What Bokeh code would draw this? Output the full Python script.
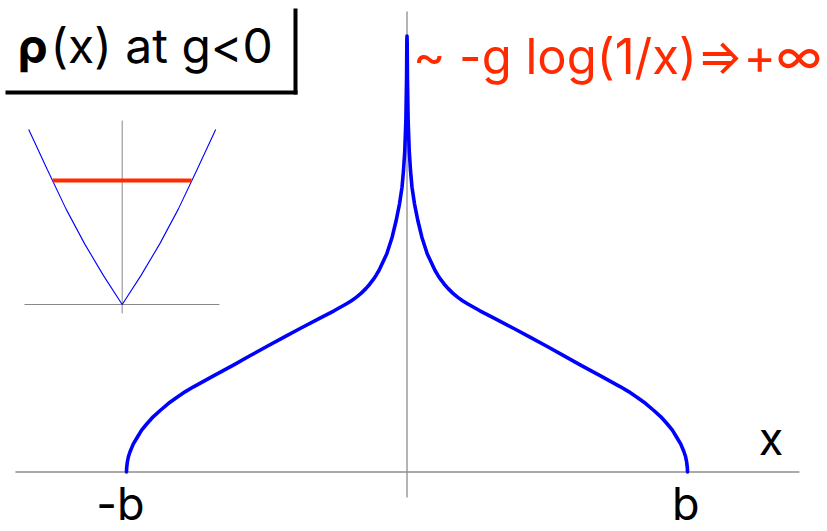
from bokeh.plotting import figure
from bokeh.models import Range1d, Label
from bokeh.embed import file_html
from bokeh.resources import INLINE

# Edge of the support [-b, b]
B = 1.0

# Right half of the eigenvalue density rho(x), 0 <= x <= b; rho is even in x
x_half = [0.0, 0.0006, 0.0015, 0.004, 0.008, 0.0125, 0.0178, 0.0267, 0.0386,
          0.053, 0.072, 0.10, 0.11, 0.12, 0.133, 0.146, 0.163, 0.18, 0.198,
          0.217, 0.26, 0.312, 0.381, 0.44, 0.5, 0.56, 0.619, 0.69, 0.761,
          0.79, 0.821, 0.85, 0.88, 0.905, 0.928, 0.946, 0.963, 0.976, 0.987,
          0.993, 0.997, 0.9995, 1.0]
rho_half = [4.36, 4.3, 3.95, 3.52, 3.21, 3.015, 2.848, 2.682, 2.515,
            2.348, 2.182, 2.015, 1.968, 1.926, 1.878, 1.836, 1.789, 1.749, 1.713,
            1.68, 1.612, 1.536, 1.435, 1.347, 1.255, 1.162, 1.069, 0.962, 0.852,
            0.804, 0.745, 0.687, 0.615, 0.552, 0.48, 0.419, 0.34, 0.279, 0.205,
            0.155, 0.1, 0.04, 0.0]

# Inset: potential V(x) and the filled level
v_x = [-1.0, -0.8, -0.6, -0.4, -0.2, 0.0, 0.2, 0.4, 0.6, 0.8, 1.0]
v_y = [1.0, 0.77, 0.545, 0.345, 0.165, 0.0, 0.165, 0.345, 0.545, 0.77, 1.0]
level_x = [-0.743, 0.743]
level_v = 0.709

# Texts
title_rho = "\u03c1"
title_rest = "(x) at g<0"
asym_text = "~ -g log(1/x)\u21d2+\u221e"
edge_labels = ["-b", "b"]
axis_label = "x"

FONT = "Inter"
BLUE = "#0000ff"
RED = "#ff2a00"
BASE = 0.17  # lift applied to text baselines

xs = [-v for v in reversed(x_half)] + x_half[1:]
ys = list(reversed(rho_half)) + rho_half[1:]

p = figure(width=827, height=531, output_backend="svg", toolbar_location=None,
           x_range=Range1d(-1.4492, 1.4991), y_range=Range1d(-0.595, 4.715),
           x_axis_location=None, y_axis_location=None, min_border=0,
           outline_line_color=None, background_fill_color="white")
p.grid.visible = False

# Separate frame for the inset sketch of the potential
p.extra_x_ranges = {"inset": Range1d(-1.3016, 7.5433)}
p.extra_y_ranges = {"inset": Range1d(-1.297, 1.737)}

# Main axes
p.line([-1.396, 1.399], [0, 0], line_color="#aaaaaa", line_width=2)
p.line([0, 0], [-0.255, 4.605], line_color="#8c8c8c", line_width=1.3)

# Density curve
p.line(xs, ys, line_color=BLUE, line_width=3.6, line_join="round", line_cap="round")

# Inset
p.line([-1.045, 1.04], [0, 0], line_color="#888888", line_width=1,
       x_range_name="inset", y_range_name="inset")
p.line([0, 0], [-0.051, 1.051], line_color="#888888", line_width=1,
       x_range_name="inset", y_range_name="inset")
p.line(v_x, v_y, line_color=BLUE, line_width=1.1,
       x_range_name="inset", y_range_name="inset")
p.line(level_x, [level_v, level_v], line_color=RED, line_width=4,
       x_range_name="inset", y_range_name="inset")

# Title box (bottom and right rules)
p.line([-1.4314, -0.3904], [3.795, 3.795], line_color="black", line_width=4)
p.line([-0.3975, -0.3975], [4.635, 3.775], line_color="black", line_width=4)


def add_text(x, y, text, size, color="black", align="left", style="normal"):
    p.add_layout(Label(x=x, y=y + BASE, text=text, text_font=FONT,
                       text_font_size=size, text_font_style=style,
                       text_color=color, text_align=align,
                       text_baseline="alphabetic"))


add_text(-1.3886, 4.098, title_rho, "48px", style="bold")
add_text(-1.2709, 4.098, title_rest, "48px")
add_text(0.021, 3.985, asym_text, "49px", color=RED)
add_text(-B - 0.022, -0.48, edge_labels[0], "45px", align="center")
add_text(B - 0.006, -0.48, edge_labels[1], "45px", align="center")
add_text(1.2977, 0.165, axis_label, "45px", align="center")

open("out.html", "w").write(file_html(p, INLINE))
